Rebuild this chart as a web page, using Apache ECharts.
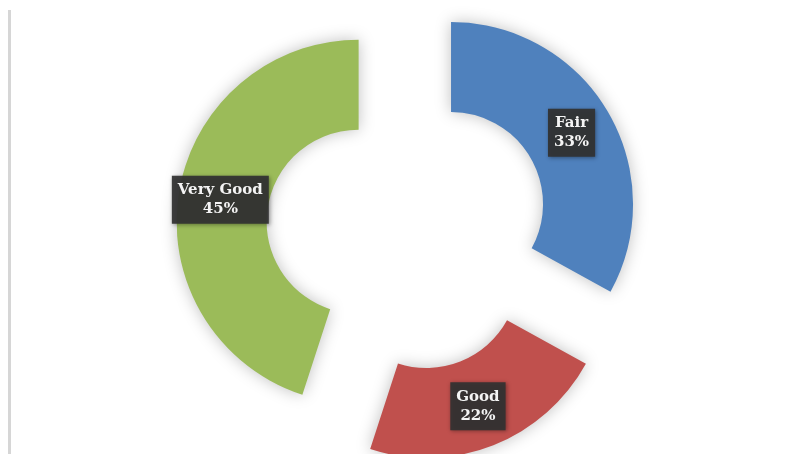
<!DOCTYPE html>
<html>
<head>
<meta charset="utf-8">
<script src="https://cdn.jsdelivr.net/npm/echarts@6/dist/echarts.min.js"></script>
<style>
  html, body { margin: 0; padding: 0; background: #ffffff; }
  #chart { width: 801px; height: 454px; }
</style>
</head>
<body>
<div id="chart"></div>
<script>
// Ratings breakdown
const categories = ['Fair', 'Good', 'Very Good'];
const shares = [33, 22, 45];
const colors = ['#4F81BD', '#C0504D', '#9BBB59'];

const chart = echarts.init(document.getElementById('chart'), null, { renderer: 'canvas' });

const pieData = categories.map((name, i) => ({
  name: name,
  value: shares[i],
  selected: true,
  itemStyle: { color: colors[i] }
}));

const sliceShadow = { shadowBlur: 16, shadowColor: 'rgba(0,0,0,0.25)' };

chart.setOption({
  animation: false,
  backgroundColor: '#ffffff',
  graphic: [{
    type: 'rect',
    shape: { x: 8, y: 10, width: 3, height: 444 },
    style: { fill: '#d6d6d6' },
    silent: true
  }],
  series: [{
    type: 'pie',
    center: [408, 229.5],
    radius: [92, 182],
    startAngle: 90,
    clockwise: true,
    selectedMode: 'multiple',
    selectedOffset: 50,
    select: { itemStyle: sliceShadow },
    itemStyle: Object.assign({ borderWidth: 0 }, sliceShadow),
    label: {
      show: true,
      position: 'inside',
      formatter: p => p.name + '\n' + p.value + '%',
      color: '#f4f4f4',
      fontFamily: '"DejaVu Serif", "Liberation Serif", serif',
      fontWeight: 'bold',
      fontSize: 15,
      lineHeight: 19,
      backgroundColor: 'rgba(50,50,50,0.93)',
      padding: [5, 6, 5, 6],
      shadowBlur: 4,
      shadowColor: 'rgba(0,0,0,0.4)',
      shadowOffsetX: 1,
      shadowOffsetY: 1
    },
    labelLine: { show: false },
    emphasis: { disabled: true },
    data: pieData
  }]
});
</script>
</body>
</html>
